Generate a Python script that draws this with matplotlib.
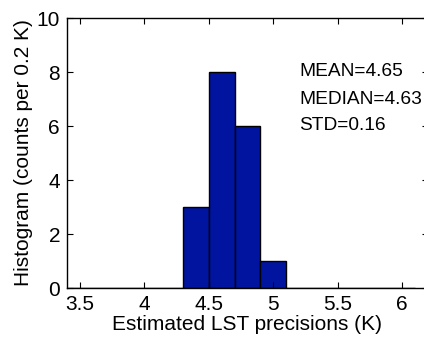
import matplotlib.pyplot as plt
import numpy as np

plt.rcParams['font.family'] = ['Liberation Sans', 'DejaVu Sans']

# histogram bins (width 0.2 K) and counts
bin_edges = [3.3, 3.5, 3.7, 3.9, 4.1, 4.3, 4.5, 4.7, 4.9, 5.1, 5.3, 5.5, 5.7, 5.9, 6.1]
counts = [0, 0, 0, 0, 0, 3, 8, 6, 1, 0, 0, 0, 0, 0]
stats_text = ['MEAN=4.65', 'MEDIAN=4.63', 'STD=0.16']
xticks = [3.5, 4, 4.5, 5, 5.5, 6]
yticks = [0, 2, 4, 6, 8, 10]

fig = plt.figure(figsize=(4.24, 3.39), dpi=100)
ax = fig.add_axes([67/424, 51/339, 361/424, 270/339])

edges = np.array(bin_edges)
ax.bar(edges[:-1], counts, width=np.diff(edges), align='edge',
       color='#0014a0', edgecolor='black', linewidth=1)

ax.set_xlim(3.4, 6.2)
ax.set_ylim(0, 10)
ax.set_xticks(xticks)
ax.set_xticklabels(['3.5', '4', '4.5', '5', '5.5', '6'])
ax.set_yticks(yticks)
ax.tick_params(direction='in', top=True, right=True, labelsize=15, length=4, pad=5)
for s in ax.spines.values():
    s.set_linewidth(1)

for i, t in enumerate(stats_text):
    ax.text(5.2, 8 - i, t, fontsize=13.8, va='center', ha='left')

ax.set_xlabel('Estimated LST precisions (K)', fontsize=15, labelpad=1)
ax.set_ylabel('Histogram (counts per 0.2 K)', fontsize=15, labelpad=3)

fig.savefig('out.png', dpi=100)
